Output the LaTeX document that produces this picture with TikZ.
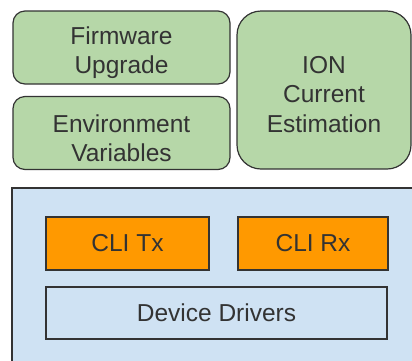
\documentclass[tikz,border=0pt]{standalone}
\usepackage{fontspec}
\setmainfont{Liberation Sans}
\begin{document}
\begin{tikzpicture}[x=1pt,y=-1pt,
  every node/.style={inner sep=0pt, outer sep=0pt, align=center, text=black!80,
    font=\fontsize{24.5}{29.5}\selectfont},
  edge/.style={draw=black!80, line width=1.2pt},
  appbox/.style={edge, fill=appgreen, rounded corners=12pt},
  layer/.style={edge, fill=layerblue},
  clibox/.style={edge, fill=cliorange},
  drvbox/.style={edge, fill=layerblue}
]
\definecolor{appgreen}{HTML}{B6D7A8}
\definecolor{cliorange}{HTML}{FF9900}
\definecolor{layerblue}{HTML}{CFE2F3}
\useasboundingbox (0,0) rectangle (412,360);
\clip (0,0) rectangle (412,360);
% application modules
\node[appbox, minimum width=217pt, minimum height=73pt] (fw) at (121.5,47.5) {};
\node (fwtext) at (121.5,52.5) {Firmware\\Upgrade};
\node[appbox, minimum width=217pt, minimum height=73pt] (env) at (121.5,133) {};
\node (envtext) at (121.5,138) {Environment\\Variables};
\node[appbox, rounded corners=24pt, minimum width=174pt, minimum height=158pt] (ion) at (324,90) {};
\node (iontext) at (324,94.5) {ION\\Current\\Estimation};
% lower layer
\node[layer, minimum width=420pt, minimum height=190pt] (base) at (222,283) {};
\node[clibox, minimum width=163pt, minimum height=53pt] (tx) at (127.5,243.5) {CLI Tx};
\node[clibox, minimum width=150pt, minimum height=53pt] (rx) at (313,243.5) {CLI Rx};
\node[drvbox, minimum width=341pt, minimum height=52pt] (drv) at (216.5,313) {Device Drivers};
\end{tikzpicture}
\end{document}
